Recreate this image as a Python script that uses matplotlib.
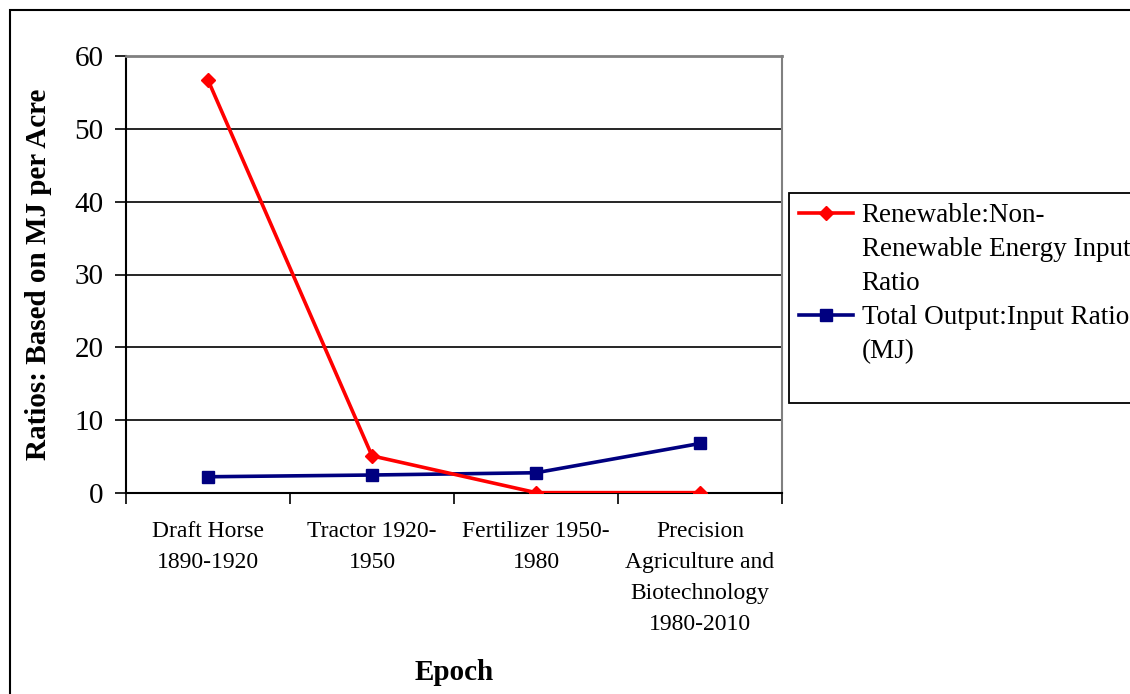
import matplotlib.pyplot as plt
from matplotlib.lines import Line2D
from matplotlib.patches import Rectangle

# Data
epochs = ['Draft Horse\n1890-1920', 'Tractor 1920-\n1950', 'Fertilizer 1950-\n1980',
          'Precision\nAgriculture and\nBiotechnology\n1980-2010']
renewable_ratio = [56.7, 5.1, 0.05, 0.05]
output_input_ratio = [2.23, 2.47, 2.78, 6.8]
legend_red = ['Renewable:Non-', 'Renewable Energy Input', 'Ratio']
legend_blue = ['Total Output:Input Ratio', '(MJ)']

plt.rcParams['font.family'] = ['Liberation Serif', 'DejaVu Serif']

W, H = 1130, 694
fig = plt.figure(figsize=(W / 100, H / 100), dpi=100)
ax = fig.add_axes([126 / W, 1 - 493 / H, (782 - 126) / W, (493 - 56) / H])

x = list(range(len(epochs)))
red_line, = ax.plot(x, renewable_ratio, color='#ff0000', lw=2.6, marker='D', ms=7.5, zorder=4)
blue_line, = ax.plot(x, output_input_ratio, color='#000080', lw=2.6, marker='s', ms=8.5, zorder=3)

ax.set_xlim(-0.5, len(epochs) - 0.5)
ax.set_ylim(0, 60)
ax.set_yticks(range(0, 61, 10))
ax.tick_params(axis='y', labelsize=21, direction='out', length=8, width=1.2, pad=8)
ax.set_xticks([i - 0.5 for i in range(len(epochs) + 1)])
ax.set_xticklabels([])
ax.tick_params(axis='x', which='major', direction='out', length=8, width=1.2)
ax.set_xticks(x, minor=True)
ax.set_xticklabels(epochs, minor=True, fontsize=17, linespacing=1.63)
ax.tick_params(axis='x', which='minor', length=0, pad=20)

for v in range(10, 60, 10):
    ax.axhline(v, color='black', lw=1.2, zorder=1)
ax.spines['top'].set_color('#808080')
ax.spines['right'].set_color('#808080')
ax.spines['top'].set_linewidth(2)
ax.spines['right'].set_linewidth(1.5)
ax.spines['left'].set_linewidth(1.5)
ax.spines['bottom'].set_linewidth(1.5)

ax.set_ylabel('Ratios: Based on MJ per Acre', fontsize=21, fontweight='bold', labelpad=16)
ax.set_xlabel('Epoch', fontsize=21, fontweight='bold', labelpad=17)

blank = Line2D([], [], color='none')
handles = [red_line, blank, blank, blue_line, blank, blank]
labels = legend_red + legend_blue + ['']
leg = fig.legend(handles, labels, loc='upper left', bbox_to_anchor=(789 / W, 1 - 193 / H),
                 fontsize=19.5, frameon=True, fancybox=False, edgecolor='black', framealpha=1,
                 labelspacing=0.33, handlelength=2.0, handletextpad=0.3,
                 borderpad=0.38, borderaxespad=0)
leg.get_texts()[-1].set_fontsize(2)
leg.get_frame().set_linewidth(1.3)

fig.patches.append(Rectangle((10 / W, -0.1), 2, 1 - 10 / H + 0.1, transform=fig.transFigure,
                             fill=False, edgecolor='black', lw=1.5))

fig.savefig('out.png', dpi=100)
